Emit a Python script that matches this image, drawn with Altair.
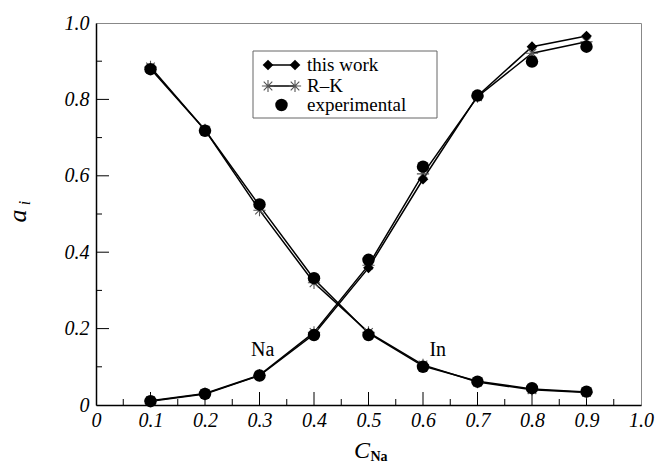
import altair as alt
import pandas as pd

# Sodium mole fraction in the Na–In melt
C_NA = [0.1, 0.2, 0.3, 0.4, 0.5, 0.6, 0.7, 0.8, 0.9]

# Activity of Na
NA_THIS_WORK = [0.010, 0.029, 0.077, 0.185, 0.359, 0.591, 0.809, 0.938, 0.966]
NA_RK = [0.011, 0.030, 0.078, 0.190, 0.366, 0.605, 0.807, 0.921, 0.951]
NA_EXP = [0.010, 0.029, 0.077, 0.183, 0.380, 0.624, 0.810, 0.899, 0.938]

# Activity of In
IN_THIS_WORK = [0.880, 0.720, 0.522, 0.330, 0.188, 0.102, 0.062, 0.042, 0.034]
IN_RK = [0.885, 0.720, 0.510, 0.320, 0.190, 0.105, 0.060, 0.040, 0.033]
IN_EXP = [0.879, 0.718, 0.525, 0.332, 0.183, 0.100, 0.061, 0.044, 0.035]

SERIES = ["this work", "R\u2013K", "experimental"]
ELEMENTS = ["Na", "In"]

# Axis ticks
X_MAJOR = [0.1, 0.2, 0.3, 0.4, 0.5, 0.6, 0.7, 0.8, 0.9]
X_MINOR = [0.05, 0.15, 0.25, 0.35, 0.45, 0.55, 0.65, 0.75, 0.85, 0.95]
Y_MAJOR = [0.2, 0.4, 0.6, 0.8]
Y_MINOR = [0.1, 0.3, 0.5, 0.7, 0.9]
X_LABELS = [0.0, 0.1, 0.2, 0.3, 0.4, 0.5, 0.6, 0.7, 0.8, 0.9, 1.0]
Y_LABELS = [0.0, 0.2, 0.4, 0.6, 0.8, 1.0]

W, H = 545, 382
SERIF = "Liberation Serif"
ASTERISK = "M0,-1L0,1M-1,0L1,0M-0.7,-0.7L0.7,0.7M-0.7,0.7L0.7,-0.7"

values = {
    ("Na", SERIES[0]): NA_THIS_WORK,
    ("Na", SERIES[1]): NA_RK,
    ("Na", SERIES[2]): NA_EXP,
    ("In", SERIES[0]): IN_THIS_WORK,
    ("In", SERIES[1]): IN_RK,
    ("In", SERIES[2]): IN_EXP,
}
rows = []
for (el, s), ys in values.items():
    for c, a in zip(C_NA, ys):
        rows.append({"C": c, "a": a, "element": el, "series": s})
df = pd.DataFrame(rows)

xscale = alt.Scale(domain=[0, 1], nice=False, zero=False)
yscale = alt.Scale(domain=[0, 1], nice=False, zero=False)

label_expr = "datum.value == 0 ? '0' : format(datum.value, '.1f')"
x_axis = alt.Axis(
    values=X_LABELS, ticks=False, grid=False, title=None, labelExpr=label_expr,
    labelFont=SERIF, labelFontStyle="italic", labelFontSize=20,
    labelColor="black", labelPadding=5, labelFlush=False, labelOverlap=False,
    domainColor="black", domainWidth=1.5,
)
y_axis = alt.Axis(
    values=Y_LABELS, ticks=False, grid=False, title=None, labelExpr=label_expr,
    labelFont=SERIF, labelFontStyle="italic", labelFontSize=20,
    labelColor="black", labelPadding=7, labelFlush=False, labelOverlap=False,
    domainColor="black", domainWidth=1.5,
)

X = alt.X("C:Q", scale=xscale, axis=x_axis)
Y = alt.Y("a:Q", scale=yscale, axis=y_axis)

base = alt.Chart(df)

lines = base.transform_filter(
    alt.FieldOneOfPredicate(field="series", oneOf=SERIES[:2])
).mark_line(color="black", strokeWidth=1.5).encode(
    x=X, y=Y, detail=["element:N", "series:N"]
)

rk_pts = base.transform_filter(alt.datum.series == SERIES[1]).mark_point(
    shape=ASTERISK, filled=False, color="#555555", size=150, strokeWidth=1.1, opacity=1
).encode(x=X, y=Y)

tw_pts = base.transform_filter(alt.datum.series == SERIES[0]).mark_point(
    shape="diamond", filled=True, color="black", size=115, opacity=1
).encode(x=X, y=Y)

exp_pts = base.transform_filter(alt.datum.series == SERIES[2]).mark_circle(
    color="black", size=155, opacity=1
).encode(x=X, y=Y)

# Inward tick marks on the left and bottom axes
def xticks(vals, length):
    return alt.Chart(pd.DataFrame({"t": vals})).mark_rule(color="black", strokeWidth=1).encode(
        x=alt.X("t:Q", scale=xscale, axis=x_axis), y=alt.value(H), y2=alt.value(H - length)
    )

def yticks(vals, length):
    return alt.Chart(pd.DataFrame({"t": vals})).mark_rule(color="black", strokeWidth=1).encode(
        y=alt.Y("t:Q", scale=yscale, axis=y_axis), x=alt.value(0), x2=alt.value(length)
    )

ticks = [xticks(X_MAJOR, 13), xticks(X_MINOR, 6), yticks(Y_MAJOR, 13), yticks(Y_MINOR, 6)]

# Curve labels
curve_labels = alt.Chart(pd.DataFrame({"C": [0.306, 0.627], "a": [0.145, 0.145], "lab": ELEMENTS})).mark_text(
    font=SERIF, fontSize=20, color="black", align="center", baseline="middle"
).encode(x=X, y=Y, text="lab:N")

# Axis titles with subscripts
def txt(s, x, y, size, style="normal", angle=0, weight="normal"):
    kw = dict(font=SERIF, fontSize=size, fontStyle=style, fontWeight=weight, color="black",
              align="center", baseline="middle")
    if angle:
        kw["angle"] = angle
    return alt.Chart(pd.DataFrame({"s": [s]})).mark_text(**kw).encode(
        x=alt.value(x), y=alt.value(y), text="s:N"
    )

titles = [
    txt("C", 266, 428, 24, "italic"),
    txt("Na", 283, 434, 14, weight="bold"),
    txt("a", -78, 193, 26, "italic", 270),
    txt("i", -71, 180, 16, "italic", 270),
]

# Legend box
one = pd.DataFrame({"k": [0]})
LX0, LX1, LY0, LY1 = 157, 341, 28, 95
legend = [
    alt.Chart(one).mark_rect(fill="white", stroke="#666666", strokeWidth=1).encode(
        x=alt.value(LX0), x2=alt.value(LX1), y=alt.value(LY0), y2=alt.value(LY1)
    )
]
row_y = [42, 63, 82]
sx0, sx1, tx = 172, 199, 211
for i, name in enumerate(SERIES):
    ry = row_y[i]
    legend.append(
        alt.Chart(pd.DataFrame({"s": [name]})).mark_text(
            font=SERIF, fontSize=19, color="black", align="left", baseline="middle"
        ).encode(x=alt.value(tx), y=alt.value(ry), text="s:N")
    )
    if i < 2:
        legend.append(
            alt.Chart(one).mark_rule(color="black", strokeWidth=1.5).encode(
                x=alt.value(sx0), x2=alt.value(sx1), y=alt.value(ry)
            )
        )
        for sx in (sx0, sx1):
            if i == 0:
                m = alt.Chart(one).mark_point(shape="diamond", filled=True, color="black", size=115, opacity=1)
            else:
                m = alt.Chart(one).mark_point(shape=ASTERISK, filled=False, color="#555555",
                                               size=150, strokeWidth=1.1, opacity=1)
            legend.append(m.encode(x=alt.value(sx), y=alt.value(ry)))
    else:
        legend.append(
            alt.Chart(one).mark_circle(color="black", size=155, opacity=1).encode(
                x=alt.value((sx0 + sx1) / 2), y=alt.value(ry)
            )
        )

chart = alt.layer(
    *ticks, lines, rk_pts, tw_pts, exp_pts, curve_labels, *titles, *legend
).properties(
    width=W, height=H,
    autosize=alt.AutoSizeParams(type="none"),
    padding={"left": 96, "top": 23, "right": 16, "bottom": 63},
    background="white",
).configure_view(stroke="#888888", strokeWidth=1)

chart.save("out.html", embed_options={"renderer": "svg", "actions": False})
